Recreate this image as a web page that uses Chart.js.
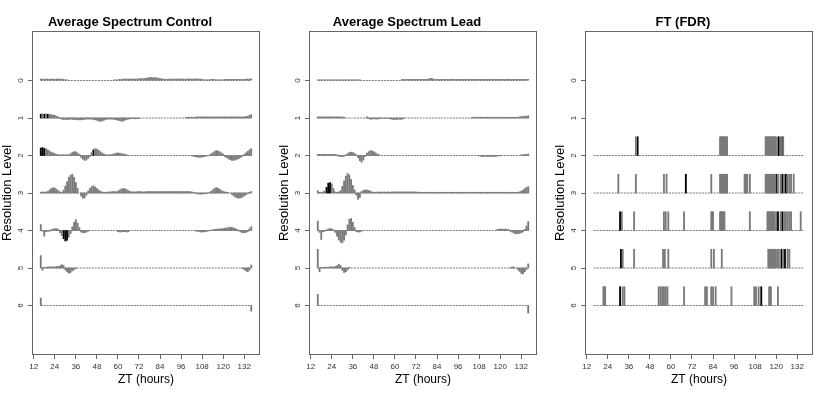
<!DOCTYPE html>
<html>
<head>
<meta charset="utf-8">
<script src="https://cdn.jsdelivr.net/npm/chart.js@4.4.1/dist/chart.umd.min.js"></script>
<style>
  body { margin: 0; background: #fff; width: 830px; height: 395px; position: relative; overflow: hidden; }
  .panel { position: absolute; top: 0; }
</style>
</head>
<body>
<div class="panel" style="left:0"><canvas id="c0" width="277" height="395"></canvas></div>
<div class="panel" style="left:277px"><canvas id="c1" width="277" height="395"></canvas></div>
<div class="panel" style="left:553px"><canvas id="c2" width="277" height="395"></canvas></div>
<script>
// hourly values from ZT 16 to ZT 136, one row = 11 hours
const startHour = 16;
const hourTicks = [12, 24, 36, 48, 60, 72, 84, 96, 108, 120, 132];
const levelTicks = [0, 1, 2, 3, 4, 5, 6];
const titles = ['Average Spectrum Control', 'Average Spectrum Lead', 'FT (FDR)'];

// Average Spectrum Control (deviation from level line, + is up)
const ctrl0 = [
  .04,.04,.03,.04,.04,.03,.04,.04,.03,.04,.04,
  .03,.04,.03,.02,.02,0,0,0,0,0,0,
  0,0,0,0,0,0,0,0,0,0,0,
  0,0,0,0,0,0,0,0,0,.02,.02,
  .02,.03,.03,.04,.04,.04,.04,.04,.04,.04,.04,
  .04,.05,.05,.05,.05,.06,.07,.08,.08,.07,.08,
  .07,.06,.05,.04,.04,.03,.03,.04,.04,.04,.03,
  .04,.04,.04,.04,.04,.03,.04,.04,.04,.04,.04,
  .04,.04,.04,.04,.03,.02,.02,.02,.02,.03,.03,
  .03,.02,.02,.02,.02,.02,.03,.03,.03,.03,.03,
  .03,.03,.03,.03,.03,.03,.03,.04,.04,.04,.04
];
const ctrl1 = [
  .10,.11,.10,.11,.10,.10,.09,.08,.07,.05,.03,
  -.02,-.03,-.04,-.04,-.04,-.04,-.03,-.04,-.04,-.04,-.05,
  -.05,-.05,-.04,-.04,-.03,-.03,-.03,-.03,-.04,-.05,-.06,
  -.08,-.09,-.08,-.06,-.04,-.03,-.03,-.03,-.03,-.04,-.05,
  -.06,-.07,-.09,-.08,-.06,-.04,-.03,-.02,-.02,-.02,-.02,
  -.02,-.02,0,0,0,0,0,0,0,0,0,
  0,0,0,0,0,0,0,0,0,0,0,
  0,0,0,0,0,0,.02,.02,.02,.02,.02,
  .02,.03,.03,.03,.03,.03,.03,.03,.03,.03,.03,
  .03,.03,.03,.03,.03,.03,.03,.03,.03,.03,.03,
  .03,.03,.03,.03,.03,.03,.03,.04,.05,.07,.09
];
const ctrl2 = [
  .20,.21,.19,.18,.15,.12,.09,.07,.05,.03,.02,
  .02,.02,.02,.02,.02,.02,.05,.08,.10,.10,.07,
  .03,-.05,-.10,-.13,-.12,-.08,-.03,.08,.15,.18,.17,
  .14,.10,.07,.04,.02,.02,.02,.02,.03,.05,.06,
  .07,.06,.05,.04,.03,.02,0,0,0,0,0,
  0,0,0,0,0,0,0,0,0,0,0,
  0,0,0,0,0,0,0,0,0,0,0,
  0,0,0,0,0,0,0,0,0,-.01,-.02,
  -.03,-.04,-.05,-.05,-.04,-.03,-.02,-.01,.01,.04,.07,
  .10,.13,.12,.10,.07,.04,-.03,-.06,-.09,-.11,-.13,
  -.13,-.12,-.10,-.08,-.05,-.02,.03,.07,.11,.15,.18
];
const ctrl3 = [
  .02,.03,.02,.03,.04,.08,.12,.14,.13,.10,.06,
  .03,.01,.08,.18,.30,.42,.48,.50,.42,.28,.12,
  0,-.08,-.14,-.13,-.06,.05,.12,.17,.19,.16,.12,
  .08,.05,.03,.02,.02,.02,.03,.03,.04,.04,.03,
  .05,.08,.11,.12,.11,.09,.06,.04,.03,.03,.03,
  .04,.04,.04,.03,.03,.04,.04,.04,.04,.04,.04,
  .04,.04,.04,.04,.04,.04,.04,.04,.04,.04,.04,
  .04,.04,.04,.04,.04,.04,.04,.04,.04,.03,.02,
  .01,-.02,-.03,-.03,-.03,-.02,-.02,-.01,.01,.04,.08,
  .12,.14,.13,.10,.07,.04,.03,.02,.01,0,-.04,
  -.08,-.11,-.13,-.14,-.13,-.11,-.08,-.05,-.02,.02,.04
];
const ctrl4 = [
  .16,-.02,-.15,-.03,-.02,-.02,.02,.04,.05,.05,.03,
  -.06,-.14,-.22,-.28,-.26,-.18,-.08,.10,.22,.29,.20,
  .08,-.04,-.06,-.06,-.04,-.02,0,0,0,0,0,
  0,0,0,0,0,0,0,0,0,0,0,
  -.03,-.04,-.04,-.03,-.03,-.04,-.03,0,0,0,0,
  0,0,0,0,0,0,0,0,0,0,0,
  0,0,0,0,0,0,0,0,0,0,0,
  0,0,0,0,0,0,0,0,0,0,0,
  -.01,-.02,-.03,-.04,-.04,-.04,-.03,-.02,-.01,.01,.02,
  .03,.03,.04,.04,.05,.05,.06,.07,.08,.09,.08,
  .07,.05,.03,-.02,-.04,-.06,-.06,-.05,-.03,.05,.10
];
const ctrl5 = [
  .33,-.06,.02,.02,.03,.03,.03,.03,.03,.04,.04,
  .06,.09,.07,-.05,-.10,-.14,-.12,-.08,-.04,-.02,0,
  0,0,0,0,0,0,0,0,0,0,0,
  0,0,0,0,0,0,0,0,0,0,0,
  0,0,0,0,0,0,0,0,0,0,0,
  0,0,0,0,0,0,0,0,0,0,0,
  0,0,0,0,0,0,0,0,0,0,0,
  0,0,0,0,0,0,0,0,0,0,0,
  0,0,0,0,0,0,0,0,0,0,0,
  0,0,0,0,0,0,0,0,0,0,0,
  0,0,0,0,0,-.02,-.04,-.08,-.10,-.06,.08
];
const ctrl6 = [
  .20,0,0,0,0,0,0,0,0,0,0,
  0,0,0,0,0,0,0,0,0,0,0,
  0,0,0,0,0,0,0,0,0,0,0,
  0,0,0,0,0,0,0,0,0,0,0,
  0,0,0,0,0,0,0,0,0,0,0,
  0,0,0,0,0,0,0,0,0,0,0,
  0,0,0,0,0,0,0,0,0,0,0,
  0,0,0,0,0,0,0,0,0,0,0,
  0,0,0,0,0,0,0,0,0,0,0,
  0,0,0,0,0,0,0,0,0,0,0,
  0,0,0,0,0,0,0,0,0,0,-.15
];
const ctrlBlack = [[], [16, 18, 20], [16, 17, 18, 46], [], [29, 30, 31], [], []];

// Average Spectrum Lead
const lead0 = [
  .02,.02,.02,.02,.02,.02,.02,.02,.02,.02,.02,
  .02,.02,.02,.02,.02,.02,.02,.02,.02,.02,.02,
  .02,.02,.02,0,0,0,0,0,0,0,0,
  0,0,0,0,0,0,0,0,0,0,0,
  0,0,0,0,.03,.03,.03,.03,.03,.03,.03,
  .03,.03,.03,.03,.03,.03,.03,.03,.04,.05,.06,
  .04,.03,.03,.03,.03,.03,.03,.03,.03,.03,.03,
  .03,.03,.03,.03,.03,.03,.03,.03,.03,.03,.03,
  .03,.03,.03,.03,.03,.03,.03,.03,.03,.03,.03,
  .03,.03,.03,.03,.03,.03,.03,.03,.03,.03,.03,
  .03,.03,.03,.03,.03,.03,.03,.03,.03,.03,.03
];
const lead1 = [
  .03,.03,.03,.03,.03,.03,.03,.03,.03,.03,.03,
  .03,.03,.03,.03,.02,0,0,0,0,0,0,
  0,0,0,0,0,0,.03,-.02,-.03,-.03,-.02,
  -.03,-.03,-.02,-.01,-.01,-.01,-.01,-.01,-.02,-.03,-.04,
  -.04,-.04,-.03,-.04,-.03,-.02,0,0,0,0,0,
  0,0,0,0,0,0,0,0,0,0,0,
  0,0,0,0,0,0,0,0,0,0,0,
  0,0,0,0,0,0,0,0,0,0,0,
  .02,.02,.02,.02,.02,.02,.02,.02,.02,.02,.02,
  .02,.02,.02,.02,.02,.02,.02,.02,.02,.02,.02,
  .02,.02,.02,.02,.02,.03,.04,.04,.05,.05,.06
];
const lead2 = [
  .03,.03,.03,.03,.03,.03,.03,.03,.03,.03,.03,
  .02,-.02,-.03,-.03,-.02,.02,.05,.08,.09,.08,.05,
  .02,-.06,-.14,-.18,-.12,-.03,.06,.10,.13,.12,.10,
  .07,.04,.02,0,0,0,0,0,0,0,0,
  0,0,0,0,0,0,0,0,0,0,0,
  0,0,0,0,0,0,0,0,0,0,0,
  0,0,0,0,0,0,0,0,0,0,0,
  0,0,0,0,0,0,0,0,0,0,0,
  0,0,0,0,-.01,-.02,-.03,-.03,-.02,-.03,-.03,
  -.03,-.02,-.03,-.02,-.01,-.01,0,0,0,0,0,
  0,0,0,0,0,0,.02,.02,.03,.03,.04
];
const lead3 = [
  .06,.02,.02,.03,.05,.15,.26,.28,.24,.12,.03,
  .02,.03,.06,.18,.32,.45,.52,.48,.36,.20,.08,
  -.06,-.17,-.12,.04,.07,.08,.08,.07,.05,.03,.02,
  .02,.03,.02,.03,.02,.03,.02,.03,.02,.03,.03,
  .03,.03,.03,.03,.03,.03,.03,.03,.03,.03,.03,
  .03,.03,.02,.02,.02,.02,.02,.02,.02,.02,.02,
  .02,.02,.02,.02,.02,.02,.02,.02,.02,.02,.02,
  .02,.02,.02,.02,.02,.02,.02,.02,.02,.02,.02,
  .02,.02,.02,.02,.02,.02,.02,.02,.02,.02,.02,
  .02,.02,.02,.02,.02,.02,.02,.02,.02,.02,.02,
  .02,.02,.02,.02,.02,.03,.05,.08,.12,.15,.17
];
const lead4 = [
  .25,-.05,-.24,-.03,-.02,.02,.04,.05,.04,.02,-.05,
  -.15,-.25,-.31,-.33,-.26,-.12,.15,.30,.32,.22,.08,
  -.03,-.04,-.04,-.02,0,0,0,0,0,0,0,
  0,0,0,0,0,0,0,0,0,0,0,
  0,0,0,0,0,0,0,0,0,0,0,
  0,0,0,0,0,0,0,0,0,0,0,
  0,0,0,0,0,0,0,0,0,0,0,
  0,0,0,0,0,0,0,0,0,0,0,
  0,0,0,0,0,0,0,0,0,0,0,
  0,0,0,.02,.03,.04,.04,.03,.04,.03,.02,
  -.03,-.05,-.07,-.09,-.08,-.08,-.06,-.04,.03,.12,.24
];
const lead5 = [
  .50,-.10,.02,.02,.02,.02,.02,.03,.03,.03,.04,
  .06,.10,.07,-.06,-.12,-.10,-.05,.02,0,0,0,
  0,0,0,0,0,0,0,0,0,0,0,
  0,0,0,0,0,0,0,0,0,0,0,
  0,0,0,0,0,0,0,0,0,0,0,
  0,0,0,0,0,0,0,0,0,0,0,
  0,0,0,0,0,0,0,0,0,0,0,
  0,0,0,0,0,0,0,0,0,0,0,
  0,0,0,0,0,0,0,0,0,0,0,
  0,0,0,0,0,0,0,0,0,0,0,
  .02,.03,.02,0,-.04,-.09,-.14,-.16,-.10,-.04,.11
];
const lead6 = [
  .30,0,0,0,0,0,0,0,0,0,0,
  0,0,0,0,0,0,0,0,0,0,0,
  0,0,0,0,0,0,0,0,0,0,0,
  0,0,0,0,0,0,0,0,0,0,0,
  0,0,0,0,0,0,0,0,0,0,0,
  0,0,0,0,0,0,0,0,0,0,0,
  0,0,0,0,0,0,0,0,0,0,0,
  0,0,0,0,0,0,0,0,0,0,0,
  0,0,0,0,0,0,0,0,0,0,0,
  0,0,0,0,0,0,0,0,0,0,0,
  0,0,0,0,0,0,0,0,0,0,-.20
];
const leadBlack = [[], [], [], [21, 22, 23], [], [], []];

// FT (FDR): hours flagged at each resolution level
const ftLevels = [2, 3, 4, 5, 6];
const ftGray2 = [40, 88, 88.5, 89, 89.5, 90, 90.5, 91, 91.5, 92,
  114, 114.5, 115, 115.5, 116, 116.5, 117, 117.5, 118, 118.5, 119, 119.5, 120.5, 122.5, 124];
const ftBlack2 = [41, 121.5, 123.5];
const ftGray3 = [30, 40, 56, 57.5, 83, 88, 88.5, 89, 89.5, 90, 90.5, 91, 91.5, 92,
  102, 102.5, 103, 103.5, 105, 114, 114.5, 115, 115.5, 116, 116.5, 117, 117.5, 118, 118.5, 119, 119.5,
  121, 122.5, 124.5, 126.5, 127.5, 128.5, 130];
const ftBlack3 = [68.5, 120, 123.5, 125.5];
const ftGray4 = [32, 39, 56, 57, 58.5, 67.5, 83, 83.5, 84, 88, 88.5, 89, 89.5, 90, 90.5, 105,
  115, 115.5, 116, 116.5, 117, 117.5, 118, 118.5, 119, 120, 122.5, 124.5, 125.5, 126.5, 127.5, 128.5, 134];
const ftBlack4 = [31, 121, 123.5];
const ftGray5 = [32.5, 39, 55.5, 56.5, 58.5, 83, 84.5, 89,
  115.5, 116, 116.5, 117, 117.5, 118, 118.5, 119, 119.5, 120.5, 121.5, 124, 126.5, 127.5];
const ftBlack5 = [31.5, 123, 125];
const ftGray6 = [21.5, 22, 22.5, 32.5, 33.5, 53, 54, 55, 56, 57, 58, 67.5, 79.5, 80.5, 83, 84, 85.5,
  94.5, 107.5, 108.5, 110, 116, 116.5, 117, 121];
const ftBlack6 = [31, 111.5];
const ftHeight = 0.5;

Chart.defaults.font.family = '"Liberation Sans", Arial, sans-serif';
Chart.defaults.color = '#333';

const endHour = startHour + ctrl0.length - 1;

function baselines(levels) {
  return levels.map(lvl => ({
    type: 'line',
    data: [{ x: startHour, y: lvl }, { x: endHour, y: lvl }],
    borderColor: '#7a7a7a',
    borderWidth: 1,
    borderDash: [2, 1],
    pointRadius: 0,
    order: 2
  }));
}

function barSet(points, color) {
  return {
    type: 'bar',
    data: points,
    backgroundColor: color,
    borderWidth: 0,
    barThickness: 1.2,
    grouped: false,
    order: 1
  };
}

function spectrumDatasets(levels, blacks) {
  const gray = [], black = [];
  levels.forEach((vals, lvl) => {
    vals.forEach((v, i) => {
      if (!v) return;
      const h = startHour + i;
      const pt = { x: h, y: [lvl, lvl - v] };
      if (blacks[lvl].includes(h)) black.push(pt); else gray.push(pt);
    });
  });
  return [...baselines(levelTicks), barSet(gray, '#7a7a7a'), barSet(black, '#000')];
}

function ftDatasets() {
  const grays = [ftGray2, ftGray3, ftGray4, ftGray5, ftGray6];
  const blacks = [ftBlack2, ftBlack3, ftBlack4, ftBlack5, ftBlack6];
  const gray = [], black = [];
  ftLevels.forEach((lvl, k) => {
    grays[k].forEach(h => gray.push({ x: h, y: [lvl, lvl - ftHeight] }));
    blacks[k].forEach(h => black.push({ x: h, y: [lvl, lvl - ftHeight] }));
  });
  return [...baselines(ftLevels), barSet(gray, '#7a7a7a'), barSet(black, '#000')];
}

const boxPlugin = {
  id: 'box',
  afterDatasetsDraw(chart) {
    const { ctx, chartArea: a } = chart;
    ctx.save();
    ctx.strokeStyle = '#666';
    ctx.lineWidth = 1;
    ctx.strokeRect(a.left + 0.5, a.top + 0.5, a.right - a.left - 1, a.bottom - a.top - 1);
    ctx.restore();
  }
};

function makePanel(id, title, datasets) {
  new Chart(document.getElementById(id), {
    type: 'bar',
    data: { datasets },
    plugins: [boxPlugin],
    options: {
      responsive: false,
      animation: false,
      devicePixelRatio: 1,
      layout: { padding: { left: 0, right: 17, top: 0, bottom: 0 } },
      plugins: {
        legend: { display: false },
        tooltip: { enabled: false },
        title: {
          display: true,
          text: title,
          color: '#000',
          font: { size: 13, weight: 'bold' },
          padding: { top: 15, bottom: 0.4 }
        }
      },
      scales: {
        x: {
          type: 'linear',
          min: 11,
          max: 141,
          offset: false,
          afterBuildTicks: s => { s.ticks = hourTicks.map(v => ({ value: v })); },
          afterFit: s => { s.height = 40; },
          ticks: { autoSkip: false, minRotation: 0, maxRotation: 0, padding: 3, font: { size: 8 }, color: '#333' },
          grid: { drawOnChartArea: false, offset: false, tickLength: 4, color: '#666' },
          border: { display: false },
          title: { display: true, text: 'ZT (hours)', color: '#000', font: { size: 12 }, padding: { top: 0, bottom: 8 } }
        },
        y: {
          type: 'linear',
          reverse: true,
          min: -1.32,
          max: 7.32,
          afterBuildTicks: s => { s.ticks = levelTicks.map(v => ({ value: v })); },
          afterFit: s => { s.width = 32; },
          ticks: { minRotation: 90, maxRotation: 90, crossAlign: 'center', padding: 5, font: { size: 8 }, color: '#333' },
          grid: { drawOnChartArea: false, tickLength: 4, color: '#666' },
          border: { display: false },
          title: { display: true, text: 'Resolution Level', color: '#000', font: { size: 13 }, padding: { top: 0, bottom: 0 } }
        }
      }
    }
  });
}

makePanel('c0', titles[0], spectrumDatasets([ctrl0, ctrl1, ctrl2, ctrl3, ctrl4, ctrl5, ctrl6], ctrlBlack));
makePanel('c1', titles[1], spectrumDatasets([lead0, lead1, lead2, lead3, lead4, lead5, lead6], leadBlack));
makePanel('c2', titles[2], ftDatasets());
</script>
</body>
</html>
